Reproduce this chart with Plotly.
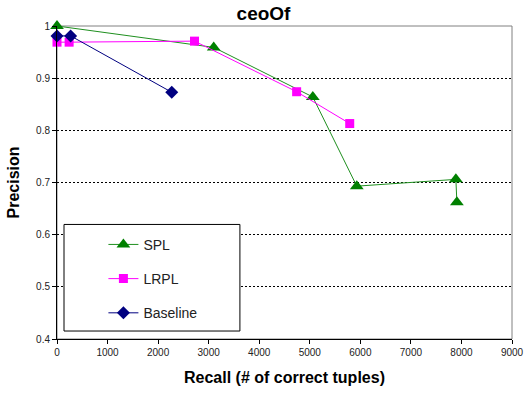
import plotly.graph_objects as go

spl_x = [0, 3100, 5060, 5930, 7890, 7910]
spl_y = [1.0, 0.959, 0.864, 0.693, 0.706, 0.662]
lrpl_x = [0, 240, 2720, 4740, 5790]
lrpl_y = [0.969, 0.969, 0.971, 0.874, 0.813]
base_x = [0, 270, 2270]
base_y = [0.981, 0.981, 0.873]

font = "Liberation Sans, Arial, sans-serif"

fig = go.Figure()
fig.add_trace(go.Scatter(x=spl_x, y=spl_y, name="SPL", mode="lines+markers",
                         line=dict(color="#1f8f1f", width=1),
                         marker=dict(symbol="triangle-up", size=12, color="#008000"),
                         legendgroup="a", cliponaxis=False))
fig.add_trace(go.Scatter(x=lrpl_x, y=lrpl_y, name="LRPL", mode="lines+markers",
                         line=dict(color="#FF00FF", width=1),
                         marker=dict(symbol="square", size=9, color="#FF00FF"),
                         legendgroup="b", cliponaxis=False))
fig.add_trace(go.Scatter(x=base_x, y=base_y, name="Baseline", mode="lines+markers",
                         line=dict(color="#000080", width=1),
                         marker=dict(symbol="diamond", size=10, color="#000080"),
                         legendgroup="c", cliponaxis=False))

fig.update_layout(
    width=527, height=397,
    margin=dict(l=57, r=15, t=26, b=58),
    paper_bgcolor="white", plot_bgcolor="white",
    font=dict(family=font, color="black"),
    title=dict(text="<b>ceoOf</b>", x=0.5, xanchor="center", y=0.982, yanchor="top",
               font=dict(size=19, family=font)),
    showlegend=True,
    legend=dict(x=0.102, y=0.352, xanchor="left", yanchor="top",
                borderwidth=0, bgcolor="rgba(0,0,0,0)",
                font=dict(size=14, family=font, color="#222"),
                traceorder="grouped", tracegroupgap=13,
                itemwidth=30),
    shapes=[
        dict(type="rect", xref="paper", yref="paper", x0=0, y0=0, x1=1, y1=1,
             line=dict(color="#808080", width=1), layer="below"),
        dict(type="rect", xref="paper", yref="paper", x0=0.0154, y0=0.0255,
             x1=0.402, y1=0.366, line=dict(color="black", width=1),
             fillcolor="white", layer="above"),
    ],
)
fig.update_xaxes(range=[0, 9000], dtick=1000, tick0=0, automargin=False,
                 showline=True, linecolor="black", linewidth=1,
                 ticks="outside", ticklen=4, tickcolor="black",
                 showgrid=False, zeroline=False,
                 tickfont=dict(size=10, family=font, color="#222"),
                 title=dict(text="<b>Recall (# of correct tuples)</b>",
                            font=dict(size=16, family=font), standoff=14))
fig.update_yaxes(range=[0.4, 1.0], dtick=0.1, tick0=0.4, automargin=False,
                 showline=True, linecolor="black", linewidth=1,
                 ticks="outside", ticklen=4, tickcolor="black",
                 showgrid=True, gridcolor="black", gridwidth=1, griddash="2px,2px",
                 zeroline=False,
                 tickfont=dict(size=10, family=font, color="#222"),
                 title=dict(text="<b>Precision</b>", font=dict(size=16, family=font), standoff=12))

fig.write_html("out.html")
